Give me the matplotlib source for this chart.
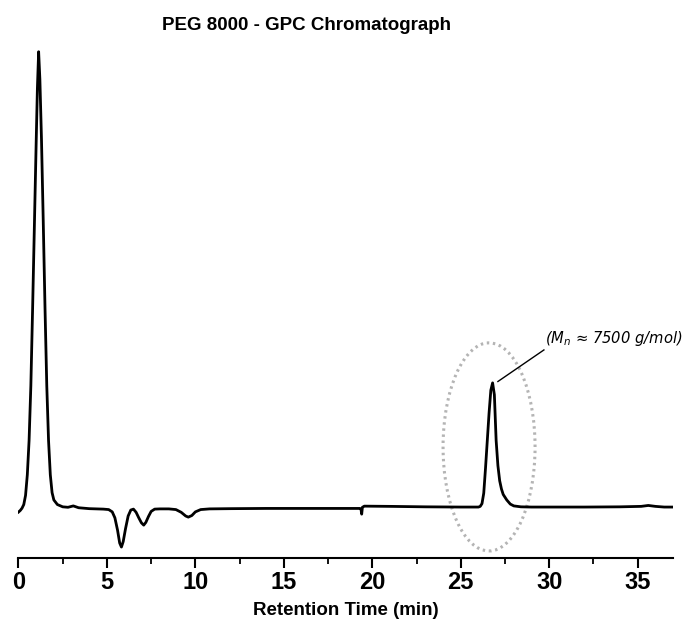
import numpy as np
import matplotlib
matplotlib.use("Agg")
import matplotlib.pyplot as plt
from matplotlib.patches import Ellipse

plt.rcParams['mathtext.fontset'] = 'custom'
plt.rcParams['mathtext.it'] = 'DejaVu Sans:italic'
plt.rcParams['mathtext.rm'] = 'DejaVu Sans:italic'

# chromatogram trace (time in min, detector signal, a.u.)
rt = [0.00, 0.10, 0.20, 0.30, 0.40, 0.50, 0.60, 0.70, 0.80, 0.90, 1.00, 1.07, 1.14,
      1.21, 1.30, 1.40, 1.50, 1.60, 1.70, 1.80, 1.90, 2.00, 2.20, 2.50, 2.80, 3.10,
      3.40, 4.00, 4.80, 5.10, 5.30, 5.45, 5.60, 5.72, 5.82, 5.92, 6.05, 6.20, 6.35,
      6.50, 6.65, 6.80, 6.95, 7.08, 7.20, 7.35, 7.50, 7.70, 8.00, 8.50, 8.90, 9.20,
      9.45, 9.60, 9.80, 10.00, 10.30, 10.80, 12.0, 14.0, 16.0, 18.0, 19.30, 19.36,
      19.40, 19.44, 19.55, 21.0, 23.0, 25.0, 26.0, 26.1, 26.2, 26.3, 26.4, 26.5,
      26.6, 26.7, 26.8, 26.9, 27.0, 27.1, 27.2, 27.3, 27.4, 27.6, 27.8, 28.0, 28.4,
      29.0, 30.0, 32.0, 34.0, 35.2, 35.6, 36.0, 36.5, 37.0]
signal = [-0.65, -0.3, 0.2, 1.0, 3.0, 7.5, 15, 27, 44, 62, 80, 92, 100,
          94, 81, 63, 44, 27, 15, 7.5, 3.6, 2.0, 1.0, 0.5, 0.4, 0.7,
          0.3, 0.1, 0.0, -0.1, -0.6, -1.9, -4.6, -7.4, -8.3, -7.1, -4.3, -1.5, -0.2,
          0.0, -0.7, -1.9, -3.0, -3.5, -2.9, -1.6, -0.5, 0.0, 0.05, 0.05, -0.1, -0.7,
          -1.5, -1.75, -1.4, -0.6, -0.1, 0.05, 0.1, 0.15, 0.15, 0.15, 0.15, 0.0,
          -1.1, 0.4, 0.65, 0.6, 0.5, 0.45, 0.45, 0.6, 1.2, 3.5, 9, 15,
          21, 26, 27.6, 25, 15, 9.5, 6.2, 4.4, 3.2, 2.0, 1.1, 0.7, 0.5,
          0.45, 0.45, 0.45, 0.5, 0.6, 0.8, 0.6, 0.45, 0.45]

x_ticks = [0, 5, 10, 15, 20, 25, 30, 35]

fig = plt.figure(figsize=(6.84, 6.32), dpi=100)
ax = fig.add_axes([0.027, 0.117, 0.957, 0.812])

ax.plot(rt, signal, color='black', lw=2.0, solid_joinstyle='round')

# dotted ring around the PEG peak
ring = Ellipse((26.6, 13.6), 5.2, 45.5, fill=False, ec='#b4b4b4',
               lw=2.2, ls=(0, (0.8, 1.2)))
ax.add_patch(ring)

ax.plot([27.1, 29.7], [27.9, 34.8], color='black', lw=1.0)
ax.text(29.75, 37.4, r"($M_n$ ≈ 7500 g/mol)", fontsize=10.6, style='italic',
        family='DejaVu Sans', ha='left', va='center')

ax.set_xlim(0, 37)
ax.set_ylim(-10.7, 101.5)
ax.set_xticks(x_ticks)
ax.set_xticks(np.arange(2.5, 37, 5), minor=True)
ax.set_yticks([])
for s in ['top', 'right', 'left']:
    ax.spines[s].set_visible(False)
ax.spines['bottom'].set_linewidth(1.5)
ax.tick_params(axis='x', which='major', direction='out', length=7, width=1.5, pad=2)
ax.tick_params(axis='x', which='minor', direction='out', length=4, width=1.3)
for lab in ax.get_xticklabels():
    lab.set_fontfamily(['Liberation Sans Narrow', 'Liberation Sans'])
    lab.set_fontweight('bold')
    lab.set_fontsize(17)

ax.set_xlabel('Retention Time (min)', fontsize=13.5, fontweight='bold',
              family=['Liberation Sans Narrow', 'Liberation Sans'], labelpad=6)
fig.text(0.448, 0.959, 'PEG 8000 - GPC Chromatograph', fontsize=13.5, fontweight='bold',
         family=['Liberation Sans Narrow', 'Liberation Sans'], ha='center', va='center')

fig.savefig('out.png', dpi=100)
